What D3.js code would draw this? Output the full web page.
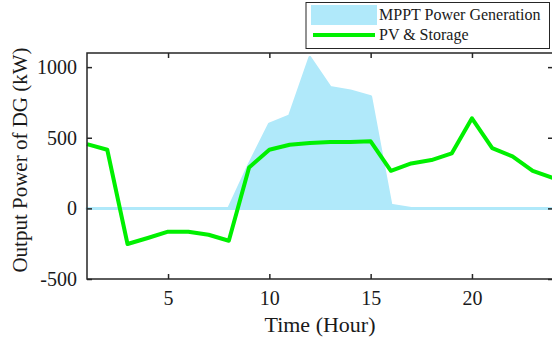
<!DOCTYPE html>
<html><head><meta charset="utf-8">
<script src="https://cdn.jsdelivr.net/npm/d3@7"></script>
<style>body{margin:0;background:#fff}svg{display:block}text{font-family:"Liberation Serif","Times New Roman",serif;fill:#1a1a1a}</style>
</head><body>
<svg id="c" width="552" height="345"></svg>
<script>
const hours = [1,2,3,4,5,6,7,8,9,10,11,12,13,14,15,16,17,18,19,20,21,22,23,24];
const mppt = [0,0,0,0,0,0,0,0,310,596,655,1068,856,832,790,23,0,0,0,0,0,0,0,0];
const pvStorage = [455,415,-252,-210,-165,-165,-187,-229,290,415,450,462,470,470,475,266,318,342,389,638,426,368,266,215];
const xTicks = [5,10,15,20];
const yTicks = [-500,0,500,1000];
const legendLabels = ["MPPT Power Generation","PV & Storage"];

const svg = d3.select("#c");
const L=87,R=553,T=53,B=279;
const x = d3.scaleLinear().domain([1,24]).range([L,R]);
const y = d3.scaleLinear().domain([-500,1100]).range([B,T]);
const axisCol="#262626";
const blue="#b0e9fa", green="#00f000";
const fmt = d => String(d);

const g = svg.append("g");
g.append("path").datum(hours.map((h,i)=>[h,mppt[i]]))
 .attr("d", d3.area().x(d=>x(d[0])).y0(y(0)).y1(d=>y(d[1])))
 .attr("fill",blue).attr("stroke",blue).attr("stroke-width",3).attr("stroke-linejoin","round");
g.append("path").datum(hours.map((h,i)=>[h,pvStorage[i]]))
 .attr("d", d3.line().x(d=>x(d[0])).y(d=>y(d[1])))
 .attr("fill","none").attr("stroke",green).attr("stroke-width",4).attr("stroke-linejoin","round");

// axes
const ax = svg.append("g");
const xb = d3.axisBottom(x).tickValues(xTicks).tickSize(-5).tickPadding(12).tickFormat(fmt);
const xt = d3.axisTop(x).tickValues(xTicks).tickSize(-5).tickFormat("");
const yl = d3.axisLeft(y).tickValues(yTicks).tickSize(-5).tickPadding(10).tickFormat(fmt);
const yr = d3.axisRight(y).tickValues(yTicks).tickSize(-5).tickFormat("");
function style(sel){
  sel.select(".domain").remove();
  sel.selectAll("line").attr("stroke",axisCol).attr("stroke-width",1.5);
  sel.selectAll("text").attr("font-size",20).style("font-family",'"Liberation Serif",serif').attr("fill","#1a1a1a");
}
ax.append("g").attr("transform",`translate(0,${B})`).call(xb).call(style);
ax.append("g").attr("transform",`translate(0,${T})`).call(xt).call(style);
ax.append("g").attr("transform",`translate(${L},0)`).call(yl).call(style);
ax.append("g").attr("transform",`translate(${R},0)`).call(yr).call(style);
ax.append("rect").attr("x",L).attr("y",T).attr("width",R-L).attr("height",B-T)
  .attr("fill","none").attr("stroke",axisCol).attr("stroke-width",1.5);

svg.append("text").attr("x",(L+R)/2).attr("y",332).attr("text-anchor","middle").attr("font-size",22).text("Time (Hour)");
svg.append("text").attr("transform","translate(27,160) rotate(-90)").attr("text-anchor","middle").attr("font-size",21).text("Output Power of DG (kW)");

// legend
const lg = svg.append("g");
lg.append("rect").attr("x",306).attr("y",2.5).attr("width",243.5).attr("height",46).attr("fill","#fff").attr("stroke",axisCol).attr("stroke-width",1);
lg.append("rect").attr("x",311).attr("y",5).attr("width",66).attr("height",20).attr("fill",blue);
lg.append("line").attr("x1",313).attr("x2",375).attr("y1",35).attr("y2",35).attr("stroke",green).attr("stroke-width",4);
lg.append("text").attr("x",379).attr("y",20).attr("font-size",16).text(legendLabels[0]);
lg.append("text").attr("x",379).attr("y",40).attr("font-size",16).text(legendLabels[1]);
</script>
</body></html>
